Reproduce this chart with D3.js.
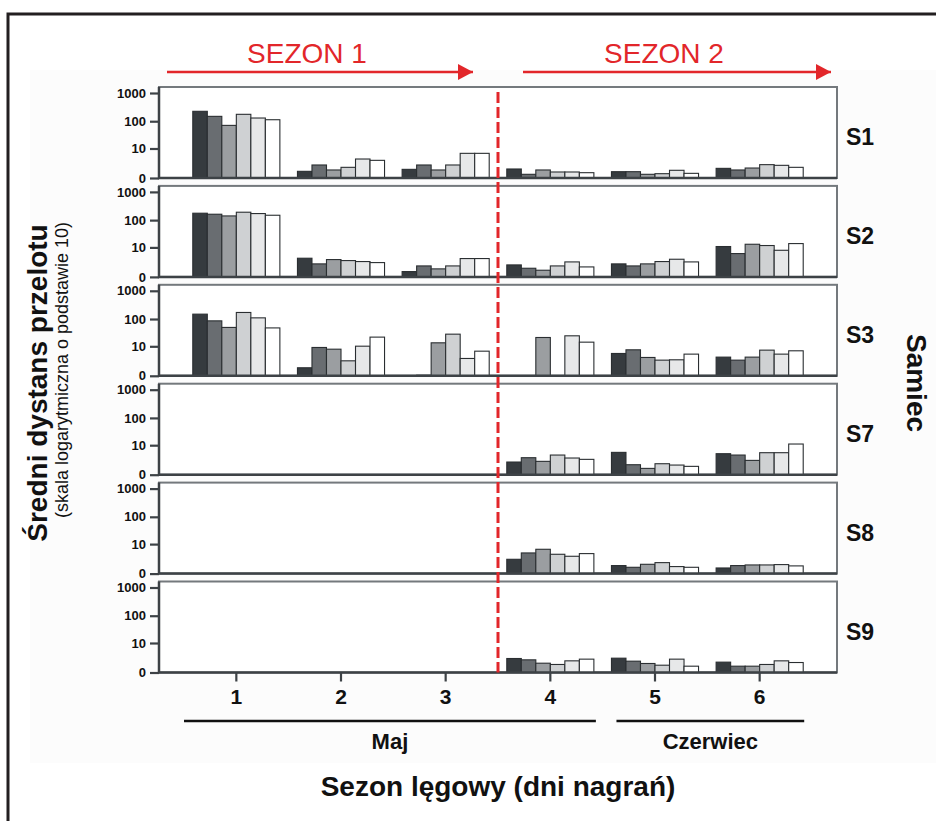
<!DOCTYPE html>
<html>
<head>
<meta charset="utf-8">
<script src="https://cdn.jsdelivr.net/npm/d3@7"></script>
<style>
  body { margin: 0; background: #fff; }
  svg { display: block; font-family: 'Liberation Sans', Arial, sans-serif; }
</style>
</head>
<body>
<div id="chart"></div>
<script>

  /* -----------------------
      DATA
   -------------------------- */

  //-- CATEGORIES
  var days = ['1', '2', '3', '4', '5', '6'];
  var males = ['S1', 'S2', 'S3', 'S7', 'S8', 'S9'];
  var recordings = [0, 1, 2, 3, 4, 5];
  var seasonLabels = ['SEZON 1', 'SEZON 2'];
  var monthLabels = ['Maj', 'Czerwiec'];
  var yTickValues = [0, 10, 100, 1000];

  //-- MEAN FLIGHT DISTANCE, per day, 6 recordings (null = no recording)
  var N = null;
  var S1 = [[225, 149, 71, 176, 130, 113], [0.72, 1.88, 0.92, 1.38, 3.68, 3.2], [1.02, 1.88, 0.92, 1.88, 6.42, 6.42],
    [1.08, 0.35, 0.92, 0.63, 0.63, 0.54], [0.67, 0.67, 0.35, 0.42, 0.87, 0.46], [1.19, 0.92, 1.25, 1.96, 1.8, 1.38]];
  var S2 = [[176, 162, 141, 191, 171, 149], [3.56, 1.88, 3.09, 2.77, 2.48, 2.2], [0.54, 1.44, 0.92, 1.44, 3.44, 3.44],
    [1.65, 1.02, 0.72, 1.44, 2.38, 1.25], [1.88, 1.44, 1.88, 2.48, 3.2, 2.38], [10.8, 5.66, 13.2, 11.8, 7.7, 14.0]];
  var S3 = [[149, 86, 50, 171, 110, 48], [0.92, 9, 7.7, 2.38, 10.1, 22.2], [N, 0.05, 13.6, 28.5, 3.09, 6.4],
    [N, N, 21.5, N, 24.8, 14.4], [5.14, 7.27, 3.44, 2.57, 2.67, 4.82], [3.56, 2.57, 3.56, 7.05, 4.82, 6.63]];
  var S7 = [[N, N, N, N, N, N], [N, N, N, N, N, N], [N, N, N, N, N, N],
    [1.8, 2.98, 1.96, 3.94, 2.88, 2.48], [5.14, 1.25, 0.67, 1.44, 1.19, 0.97], [4.51, 3.94, 2.2, 4.98, 4.98, 11.1]];
  var S8 = [[N, N, N, N, N, N], [N, N, N, N, N, N], [N, N, N, N, N, N],
    [2.2, 4.36, 6.22, 3.81, 3.09, 4.08], [0.92, 0.67, 1.13, 1.44, 0.77, 0.67], [0.58, 0.92, 1.02, 1.02, 1.08, 0.87]];
  var S9 = [[N, N, N, N, N, N], [N, N, N, N, N, N], [N, N, N, N, N, N],
    [2.12, 1.8, 1.13, 0.92, 1.58, 1.96], [2.2, 1.51, 1.08, 0.81, 1.96, 0.67], [1.32, 0.67, 0.67, 0.92, 1.58, 1.25]];
  var valuesByMale = [S1, S2, S3, S7, S8, S9];

  //-- BAR FILLS (one per recording)
  var fills = ['#363b3f', '#696d71', '#9b9ea1', '#cfd1d3', '#e7e8e9', '#ffffff'];
  var red = '#e2262a';

  /* -----------------------
      LAYOUT
   -------------------------- */
  var W = 936, H = 821;
  var panelLeft = 159, panelRight = 837;
  var panelTop0 = 87, panelH = 91, panelPitch = 98.9;

  var svg = d3.select('#chart').append('svg')
    .attr('width', W)
    .attr('height', H);

  //-- VERY LIGHT BACKGROUND + OUTER FRAME
  svg.append('rect')
    .attr('x', 30).attr('y', 70)
    .attr('width', W - 30).attr('height', 693)
    .attr('fill', '#fcfcfc');

  svg.append('path')
    .attr('d', 'M8,' + H + 'V14H' + W)
    .attr('fill', 'none')
    .attr('stroke', '#231f20')
    .attr('stroke-width', 3);

  //-- SCALES
  var x = d3.scaleBand()
    .domain(days)
    .range([184, 812])
    .paddingInner(0.168)
    .paddingOuter(0.084);

  var xRec = d3.scaleBand()
    .domain(recordings)
    .range([0, x.bandwidth()]);

  var y = d3.scaleSymlog()
    .constant(1)
    .domain([0, 1000])
    .range([panelH, panelH - 85]);

  /* -----------------------
      PANELS
   -------------------------- */
  males.forEach(function(male, i) {
    var top = panelTop0 + i * panelPitch;
    var g = svg.append('g')
      .attr('transform', 'translate(0,' + top + ')');

    g.append('rect')
      .attr('x', panelLeft).attr('y', 0)
      .attr('width', panelRight - panelLeft).attr('height', panelH)
      .attr('fill', '#fff')
      .attr('stroke', '#74797d')
      .attr('stroke-width', 2);

    //--- BARS
    var cells = [];
    valuesByMale[i].forEach(function(row, d) {
      row.forEach(function(v, k) {
        if (v !== null) cells.push({ day: days[d], rec: k, value: v });
      });
    });

    g.selectAll('.bar')
      .data(cells)
      .enter().append('rect')
      .attr('class', 'bar')
      .attr('x', function(c) { return x(c.day) + xRec(c.rec); })
      .attr('y', function(c) { return y(c.value); })
      .attr('width', xRec.bandwidth())
      .attr('height', function(c) { return panelH - y(c.value); })
      .attr('fill', function(c) { return fills[c.rec]; })
      .attr('stroke', '#2a2e31')
      .attr('stroke-width', 1.1);

    //--- Y AXIS
    var axisY = g.append('g')
      .attr('transform', 'translate(' + panelLeft + ',0)')
      .call(d3.axisLeft(y).tickValues(yTickValues).tickSize(9).tickPadding(4).tickFormat(d3.format('d')));
    axisY.select('.domain').remove();
    axisY.selectAll('line').attr('stroke', '#3d4246').attr('stroke-width', 2.2);
    axisY.selectAll('text')
      .attr('fill', '#111')
      .style('font-size', '13px')
      .style('font-weight', 'bold');

    //--- LEFT LINE + BASELINE
    g.append('path')
      .attr('d', 'M' + panelLeft + ',0V' + panelH + 'H' + panelRight)
      .attr('fill', 'none')
      .attr('stroke', '#3d4246')
      .attr('stroke-width', 2.5);

    //--- MALE LABEL
    g.append('text')
      .attr('x', 846)
      .attr('y', 58)
      .attr('fill', '#111')
      .style('font-size', '23px')
      .style('font-weight', 'bold')
      .text(male);
  });

  var lastBase = panelTop0 + (males.length - 1) * panelPitch + panelH;

  //-- X AXIS
  var axisX = svg.append('g')
    .attr('transform', 'translate(0,' + lastBase + ')')
    .call(d3.axisBottom(x).tickSize(9).tickPadding(8));
  axisX.select('.domain').remove();
  axisX.selectAll('line').attr('stroke', '#3d4246').attr('stroke-width', 2.2);
  axisX.selectAll('text')
    .attr('fill', '#111')
    .style('font-size', '21px')
    .style('font-weight', 'bold');

  /* -----------------------
      SEASON DIVIDER + ARROWS
   -------------------------- */
  var divX = (x('3') + x.bandwidth() + x('4')) / 2;

  svg.append('line')
    .attr('x1', divX).attr('x2', divX)
    .attr('y1', panelTop0 + 5).attr('y2', lastBase)
    .attr('stroke', red)
    .attr('stroke-width', 3)
    .attr('stroke-dasharray', '11,4');

  svg.append('defs').append('marker')
    .attr('id', 'head')
    .attr('viewBox', '0 0 15 16')
    .attr('refX', 15).attr('refY', 8)
    .attr('markerWidth', 15).attr('markerHeight', 16)
    .attr('markerUnits', 'userSpaceOnUse')
    .attr('orient', 'auto')
    .append('path')
    .attr('d', 'M0,0L15,8L0,16Z')
    .attr('fill', red);

  var arrows = [
    { label: seasonLabels[0], x1: x.range()[0] - 17, x2: divX - 25 },
    { label: seasonLabels[1], x1: divX + 25, x2: x.range()[1] + 19 }
  ];

  arrows.forEach(function(a) {
    svg.append('line')
      .attr('x1', a.x1).attr('x2', a.x2)
      .attr('y1', 72).attr('y2', 72)
      .attr('stroke', red)
      .attr('stroke-width', 2.6)
      .attr('marker-end', 'url(#head)');
    svg.append('text')
      .attr('x', (a.x1 + a.x2) / 2 - 13)
      .attr('y', 63)
      .attr('text-anchor', 'middle')
      .attr('fill', red)
      .style('font-size', '28px')
      .text(a.label);
  });

  /* -----------------------
      MONTHS
   -------------------------- */
  var months = [
    { label: monthLabels[0], x1: x.range()[0], x2: x('4') + x.bandwidth() + 2 },
    { label: monthLabels[1], x1: x('5') + 5, x2: x('6') + x.bandwidth() + 1 }
  ];

  months.forEach(function(m) {
    svg.append('line')
      .attr('x1', m.x1).attr('x2', m.x2)
      .attr('y1', 721).attr('y2', 721)
      .attr('stroke', '#111')
      .attr('stroke-width', 2.5);
    svg.append('text')
      .attr('x', (m.x1 + m.x2) / 2)
      .attr('y', 749)
      .attr('text-anchor', 'middle')
      .attr('fill', '#111')
      .style('font-size', '22px')
      .style('font-weight', 'bold')
      .text(m.label);
  });

  /* -----------------------
      AXIS TITLES
   -------------------------- */
  svg.append('text')
    .attr('x', (panelLeft + panelRight) / 2)
    .attr('y', 796)
    .attr('text-anchor', 'middle')
    .attr('fill', '#111')
    .style('font-size', '28px')
    .style('font-weight', 'bold')
    .text('Sezon lęgowy (dni nagrań)');

  svg.append('text')
    .attr('transform', 'translate(47,383) rotate(-90)')
    .attr('text-anchor', 'middle')
    .attr('fill', '#111')
    .style('font-size', '28px')
    .style('font-weight', 'bold')
    .text('Średni dystans przelotu');

  svg.append('text')
    .attr('transform', 'translate(68,370) rotate(-90)')
    .attr('text-anchor', 'middle')
    .attr('fill', '#111')
    .style('font-size', '18px')
    .text('(skala logarytmiczna o podstawie 10)');

  svg.append('text')
    .attr('transform', 'translate(907,383) rotate(90)')
    .attr('text-anchor', 'middle')
    .attr('fill', '#111')
    .style('font-size', '28px')
    .style('font-weight', 'bold')
    .text('Samiec');

</script>
</body>
</html>
